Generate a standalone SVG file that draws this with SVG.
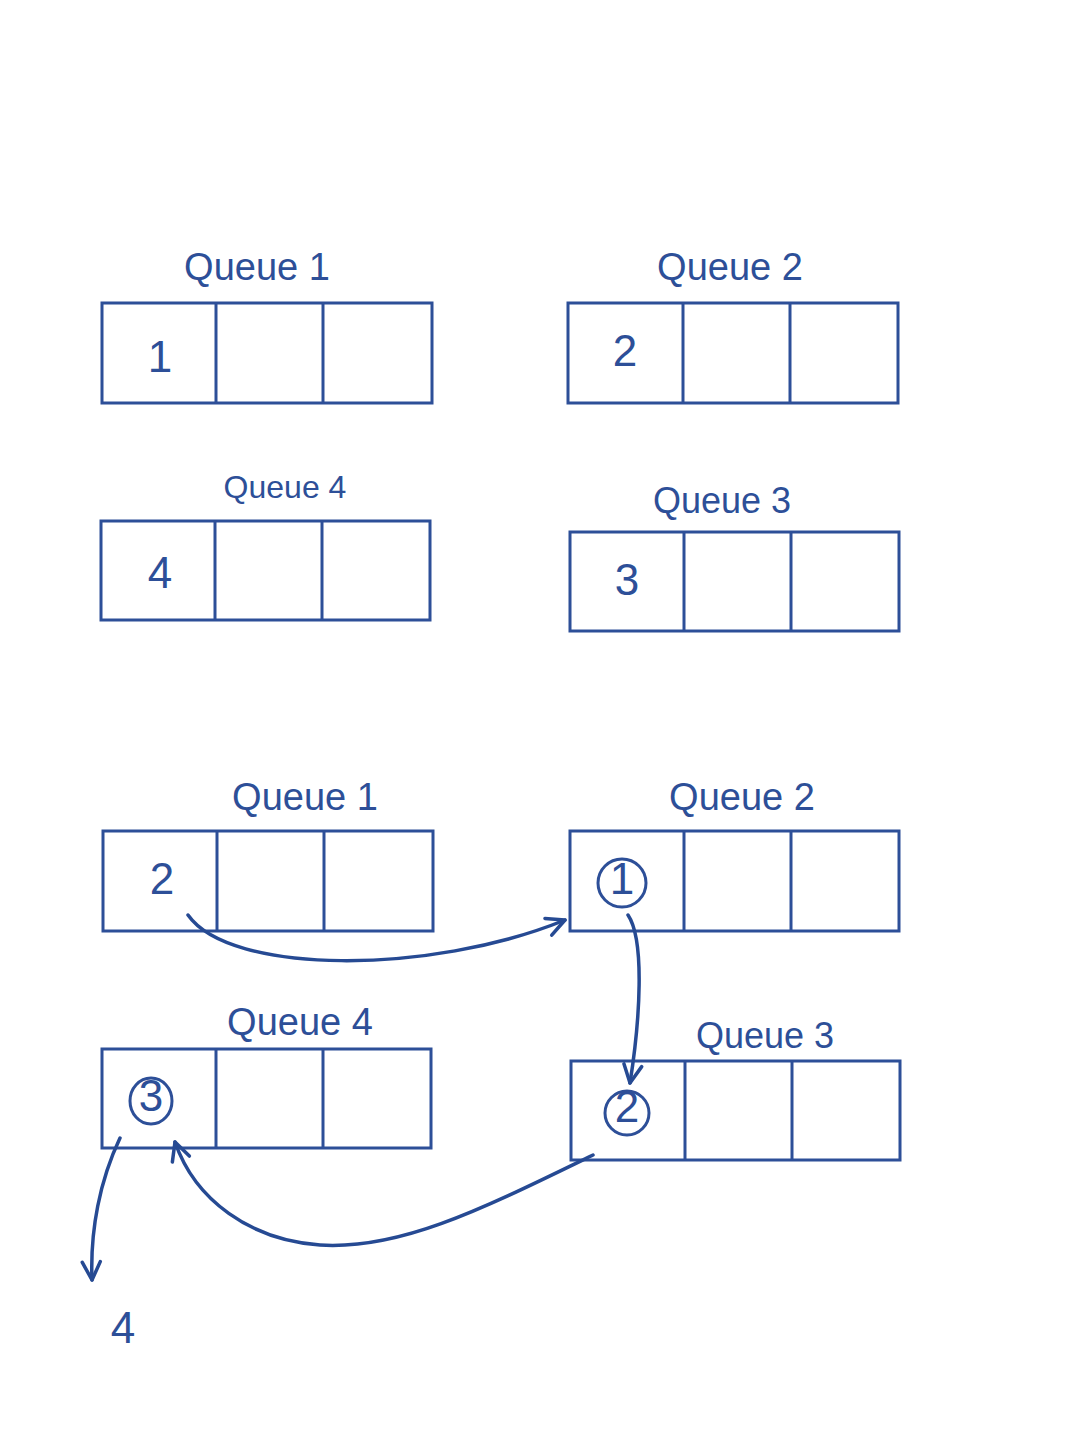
<svg xmlns="http://www.w3.org/2000/svg" width="1080" height="1440" viewBox="0 0 1080 1440">
<style>
.box{fill:none;stroke:#2d4f98;stroke-width:3}
.div{stroke:#2d4f98;stroke-width:3}
.lbl{font-family:"Liberation Sans",Arial,sans-serif;fill:#2d4f98;text-anchor:middle}
.num{font-family:"Liberation Sans",Arial,sans-serif;fill:#2d4f98;text-anchor:middle;font-size:44px}
.circ{fill:none;stroke:#2d4f98;stroke-width:3}
.con{fill:none;stroke:#264a93;stroke-width:3.5;stroke-linecap:round}
</style>
<defs>
<marker id="arr" viewBox="0 0 24 24" refX="21" refY="12" markerWidth="24" markerHeight="24" markerUnits="userSpaceOnUse" orient="auto">
<path d="M3,3 L21,12 L3,21" fill="none" stroke="#264a93" stroke-width="3.5" stroke-linecap="round" stroke-linejoin="round"/>
</marker>
</defs>
<rect width="1080" height="1440" fill="#ffffff"/>

<g id="q1-top">
<text class="lbl" x="257" y="280" font-size="38">Queue 1</text>
<rect class="box" x="102" y="303" width="330" height="100"/>
<line class="div" x1="216" y1="303" x2="216" y2="403"/>
<line class="div" x1="323" y1="303" x2="323" y2="403"/>
<text class="num" x="160" y="372">1</text>
</g>

<g id="q2-top">
<text class="lbl" x="730" y="280" font-size="38">Queue 2</text>
<rect class="box" x="568" y="303" width="330" height="100"/>
<line class="div" x1="683" y1="303" x2="683" y2="403"/>
<line class="div" x1="790" y1="303" x2="790" y2="403"/>
<text class="num" x="625" y="366">2</text>
</g>

<g id="q4-top">
<text class="lbl" x="285" y="498" font-size="32">Queue 4</text>
<rect class="box" x="101" y="521" width="329" height="99"/>
<line class="div" x1="215" y1="521" x2="215" y2="620"/>
<line class="div" x1="322" y1="521" x2="322" y2="620"/>
<text class="num" x="160" y="588">4</text>
</g>

<g id="q3-top">
<text class="lbl" x="722" y="513" font-size="36">Queue 3</text>
<rect class="box" x="570" y="532" width="329" height="99"/>
<line class="div" x1="684" y1="532" x2="684" y2="631"/>
<line class="div" x1="791" y1="532" x2="791" y2="631"/>
<text class="num" x="627" y="595">3</text>
</g>

<g id="q1-bottom">
<text class="lbl" x="305" y="810" font-size="38">Queue 1</text>
<rect class="box" x="103" y="831" width="330" height="100"/>
<line class="div" x1="217" y1="831" x2="217" y2="931"/>
<line class="div" x1="324" y1="831" x2="324" y2="931"/>
<text class="num" x="162" y="894">2</text>
</g>

<g id="q2-bottom">
<text class="lbl" x="742" y="810" font-size="38">Queue 2</text>
<rect class="box" x="570" y="831" width="329" height="100"/>
<line class="div" x1="684" y1="831" x2="684" y2="931"/>
<line class="div" x1="791" y1="831" x2="791" y2="931"/>
<circle class="circ" cx="622" cy="883" r="24"/>
<text class="num" x="622" y="894" font-size="30">1</text>
</g>

<g id="q4-bottom">
<text class="lbl" x="300" y="1035" font-size="38">Queue 4</text>
<rect class="box" x="102" y="1049" width="329" height="99"/>
<line class="div" x1="216" y1="1049" x2="216" y2="1148"/>
<line class="div" x1="323" y1="1049" x2="323" y2="1148"/>
<ellipse class="circ" cx="151" cy="1101" rx="21" ry="23"/>
<text class="num" x="151" y="1111" font-size="27">3</text>
</g>

<g id="q3-bottom">
<text class="lbl" x="765" y="1048" font-size="36">Queue 3</text>
<rect class="box" x="571" y="1061" width="329" height="99"/>
<line class="div" x1="685" y1="1061" x2="685" y2="1160"/>
<line class="div" x1="792" y1="1061" x2="792" y2="1160"/>
<circle class="circ" cx="627" cy="1113" r="22"/>
<text class="num" x="627" y="1122" font-size="26">2</text>
</g>

<g id="out-4">
<text class="num" x="123" y="1343" font-size="44">4</text>
</g>

<g id="connectors">
<path class="con" d="M188,915 C230,975 430,975 565,920" marker-end="url(#arr)"/>
<path class="con" d="M628,915 C645,940 640,1020 630,1083" marker-end="url(#arr)"/>
<path class="con" d="M593,1155 C480,1210 400,1250 320,1245 C250,1240 195,1200 175,1142" marker-end="url(#arr)"/>
<path class="con" d="M120,1138 C100,1180 90,1230 92,1280" marker-end="url(#arr)"/>
</g>
</svg>
